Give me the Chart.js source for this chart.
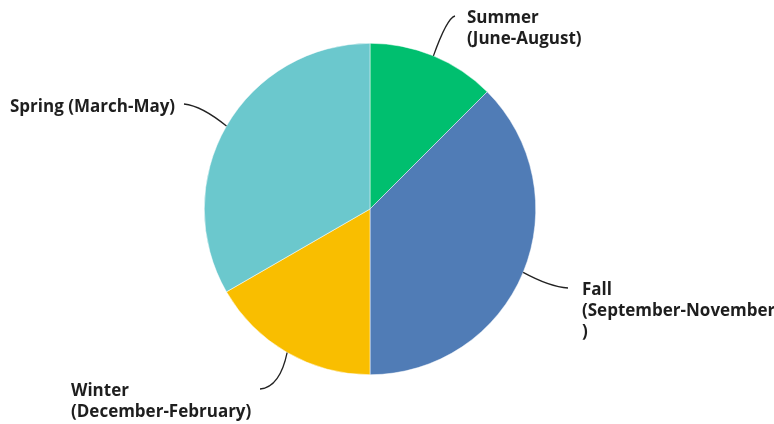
<!DOCTYPE html>
<html>
<head>
<meta charset="utf-8">
<script src="https://cdn.jsdelivr.net/npm/chart.js@4"></script>
<style>
html,body{margin:0;padding:0;background:#fff;}
#wrap{width:774px;height:424px;position:relative;}
</style>
</head>
<body>
<div id="wrap"><canvas id="c"></canvas></div>
<script>
const categories = ["Summer (June-August)", "Fall (September-November)", "Winter (December-February)", "Spring (March-May)"];
const values = [12.5, 37.5, 16.67, 33.33];
const colors = ["#00BF6F", "#507CB6", "#F9BE00", "#6BC8CD"];
const labelLines = [
  ["Summer", "(June-August)"],
  ["Fall", "(September-November", ")"],
  ["Winter", "(December-February)"],
  ["Spring (March-May)"]
];

// layout for labels: text anchor, leader end, curve control
const labelLayout = [
  {x: 467, y: 23, end: [455, 16], ctrl: [447, 18]},
  {x: 582, y: 295, end: [568, 288], ctrl: [550, 287]},
  {x: 71, y: 396, end: [260, 389], ctrl: [280, 387]},
  {x: 10, y: 112, end: [184, 104], ctrl: [202, 106]}
];

const labelPlugin = {
  id: 'outLabels',
  afterDatasetsDraw(chart) {
    const ctx = chart.ctx;
    const meta = chart.getDatasetMeta(0);
    ctx.save();
    meta.data.forEach((arc, i) => {
      const p = arc.getProps(['x','y','startAngle','endAngle','outerRadius'], true);
      const mid = (p.startAngle + p.endAngle) / 2;
      const sx = p.x + Math.cos(mid) * p.outerRadius;
      const sy = p.y + Math.sin(mid) * p.outerRadius;
      const L = labelLayout[i];
      ctx.beginPath();
      ctx.moveTo(sx, sy);
      ctx.quadraticCurveTo(L.ctrl[0], L.ctrl[1], L.end[0], L.end[1]);
      ctx.strokeStyle = '#222';
      ctx.lineWidth = 1.3;
      ctx.stroke();
      ctx.fillStyle = '#1e1e1e';
      ctx.font = 'bold 17px "Open Sans"';
      ctx.textBaseline = 'alphabetic';
      ctx.textAlign = 'left';
      labelLines[i].forEach((t, k) => {
        ctx.fillText(t, L.x, L.y + k * 21);
      });
    });
    ctx.restore();
  }
};

new Chart(document.getElementById('c'), {
  type: 'pie',
  data: {
    labels: categories,
    datasets: [{
      data: values,
      backgroundColor: colors,
      borderColor: '#ffffff',
      borderWidth: 0.5
    }]
  },
  options: {
    responsive: true,
    maintainAspectRatio: false,
    animation: false,
    layout: {padding: {left: 204, right: 238, top: 43, bottom: 49}},
    plugins: {legend: {display: false}, tooltip: {enabled: false}}
  },
  plugins: [labelPlugin]
});
</script>
</body>
</html>
